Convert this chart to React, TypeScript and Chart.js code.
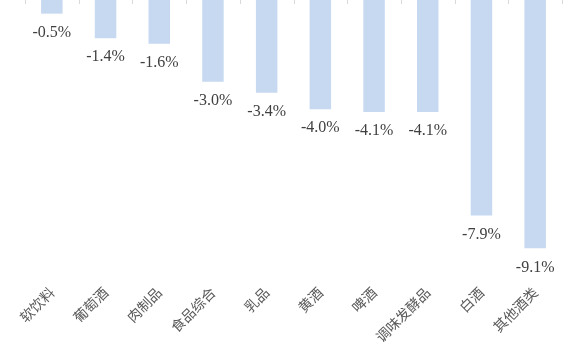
import React, { useEffect, useRef } from "react";
import { Chart, registerables } from "chart.js";

Chart.register(...registerables);

const categories = ["软饮料", "葡萄酒", "肉制品", "食品综合", "乳品", "黄酒", "啤酒", "调味发酵品", "白酒", "其他酒类"];
const values = [-0.5, -1.4, -1.6, -3.0, -3.4, -4.0, -4.1, -4.1, -7.9, -9.1];

const BAR_COLOR = "#C6D9F1";

const topTicksPlugin = {
  id: "topTicks",
  afterDatasetsDraw(chart: any) {
    const x = chart.scales.x;
    const ctx = chart.ctx;
    const top = chart.chartArea.top;
    const half = (x.getPixelForValue(1) - x.getPixelForValue(0)) / 2;
    ctx.save();
    ctx.strokeStyle = "#D9D9D9";
    ctx.lineWidth = 1;
    for (let i = 0; i <= categories.length; i++) {
      const px = Math.round(x.getPixelForValue(i) - half) + 0.5;
      ctx.beginPath();
      ctx.moveTo(px, top);
      ctx.lineTo(px, top + 4);
      ctx.stroke();
    }
    ctx.restore();
  },
};

const dataLabelPlugin = {
  id: "dataLabels",
  afterDatasetsDraw(chart: any) {
    const ctx = chart.ctx;
    const meta = chart.getDatasetMeta(0);
    ctx.save();
    ctx.font = "16px 'Liberation Serif', 'Times New Roman', serif";
    ctx.fillStyle = "#404040";
    ctx.textAlign = "center";
    ctx.textBaseline = "top";
    meta.data.forEach((bar: any, i: number) => {
      ctx.fillText(values[i].toFixed(1) + "%", bar.x, bar.y + 11);
    });
    ctx.restore();
  },
};

export default function App() {
  const ref = useRef<HTMLCanvasElement>(null);
  useEffect(() => {
    if (!ref.current) return;
    const chart = new Chart(ref.current, {
      type: "bar",
      data: {
        labels: categories,
        datasets: [
          {
            data: values,
            backgroundColor: BAR_COLOR,
            borderWidth: 0,
            barPercentage: 0.4,
            categoryPercentage: 1,
          },
        ],
      },
      options: {
        animation: false,
        responsive: true,
        maintainAspectRatio: false,
        layout: { padding: { left: 25, right: 6, top: 0, bottom: 0 } },
        plugins: { legend: { display: false }, tooltip: { enabled: false } },
        scales: {
          x: {
            position: "bottom",
            grid: { display: false, drawTicks: false },
            border: { display: false },
            ticks: {
              autoSkip: false,
              maxRotation: 45,
              minRotation: 45,
              padding: 4,
              color: "#595959",
              font: { family: "'Noto Sans CJK SC', sans-serif", size: 14 },
            },
            afterFit(scale: any) {
              scale.height = 77;
            },
          },
          y: {
            display: false,
            min: -10.26,
            max: 0,
          },
        },
      },
      plugins: [topTicksPlugin, dataLabelPlugin],
    });
    return () => chart.destroy();
  }, []);
  return (
    <div style={{ position: "absolute", left: 0, top: 0, width: 568, height: 357 }}>
      <canvas ref={ref} />
    </div>
  );
}
